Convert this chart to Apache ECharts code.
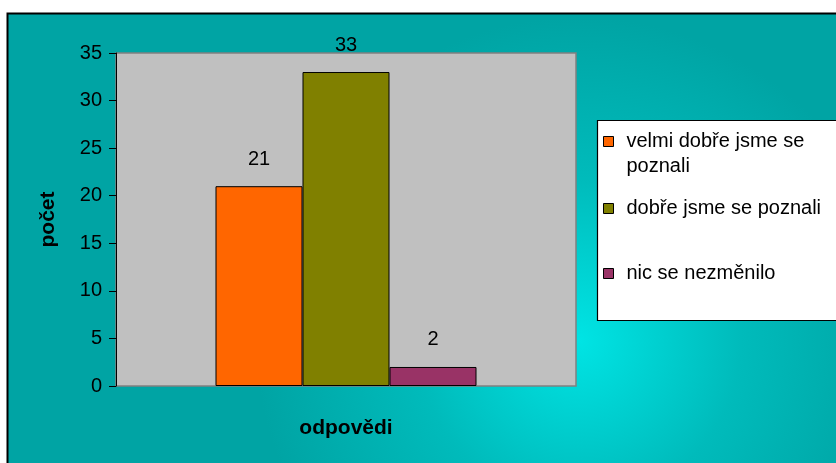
<!DOCTYPE html>
<html>
<head>
<meta charset="utf-8">
<script src="https://cdn.jsdelivr.net/npm/echarts@6/dist/echarts.min.js"></script>
<style>
  html, body { margin: 0; padding: 0; background: #fff; }
  #chart { width: 836px; height: 463px; }
</style>
</head>
<body>
<div id="chart"></div>
<script>
// data
var categories = [''];
var seriesNames = ['velmi dobře jsme se poznali', 'dobře jsme se poznali', 'nic se nezměnilo'];
var seriesValues = [[21], [33], [2]];
var seriesColors = ['#FF6600', '#808000', '#993366'];
var yTicks = { min: 0, max: 35, interval: 5 };

var chart = echarts.init(document.getElementById('chart'));
var font = 'Liberation Sans, Arial, sans-serif';

var series = seriesNames.map(function (name, i) {
    return {
        name: name,
        type: 'bar',
        data: seriesValues[i],
        barWidth: 87,
        barGap: '0%',
        itemStyle: { color: seriesColors[i], borderColor: '#000', borderWidth: 1 },
        label: {
            show: true,
            position: 'top',
            distance: 17,
            color: '#000',
            fontSize: 20,
            fontFamily: font
        }
    };
});

// one legend per item so the rows sit where the original puts them
var legendTops = [99, 191, 256];
var legends = seriesNames.map(function (name, i) {
    return {
        data: [name],
        left: 598,
        top: legendTops[i],
        orient: 'vertical',
        icon: 'rect',
        itemWidth: 10,
        itemHeight: 10,
        itemStyle: { borderColor: '#000', borderWidth: 1 },
        selectedMode: false,
        // the long name wraps; a leading blank line keeps the square on its first line
        formatter: function (n) {
            return n === seriesNames[0] ? '\nvelmi dobře jsme se\npoznali' : n;
        },
        textStyle: {
            color: '#000',
            fontSize: 20,
            fontFamily: font,
            lineHeight: 25,
            padding: [0, 0, 0, 8]
        }
    };
});

chart.setOption({
    backgroundColor: '#fff',
    animation: false,
    graphic: [
        {
            type: 'rect',
            z: -100,
            shape: { x: 7.5, y: 13.5, width: 840, height: 460 },
            style: {
                fill: {
                    type: 'radial',
                    x: 0.68, y: 0.71, r: 0.7,
                    colorStops: [
                        { offset: 0, color: '#00E4E4' },
                        { offset: 0.5, color: '#00BBBB' },
                        { offset: 1, color: '#00A4A4' }
                    ]
                },
                stroke: '#000',
                lineWidth: 2
            }
        },
        {
            type: 'rect',
            z: -50,
            shape: { x: 597.5, y: 120.5, width: 250, height: 200 },
            style: { fill: '#fff', stroke: '#000', lineWidth: 1.2 }
        }
    ],
    legend: legends,
    grid: {
        left: 116,
        top: 53,
        width: 460,
        height: 333,
        show: true,
        backgroundColor: '#C0C0C0',
        borderColor: '#808080',
        borderWidth: 1.5
    },
    xAxis: {
        type: 'category',
        data: categories,
        name: 'odpovědi',
        nameLocation: 'middle',
        nameGap: 32,
        nameTextStyle: { color: '#000', fontSize: 21, fontWeight: 'bold', fontFamily: font },
        axisLine: { show: false },
        axisTick: { show: false },
        axisLabel: { show: false }
    },
    yAxis: {
        type: 'value',
        min: yTicks.min,
        max: yTicks.max,
        interval: yTicks.interval,
        name: 'počet',
        nameLocation: 'middle',
        nameGap: 57,
        nameTextStyle: { color: '#000', fontSize: 21, fontWeight: 'bold', fontFamily: font },
        axisLine: { show: true, lineStyle: { color: '#000', width: 1 } },
        axisTick: { show: true, length: 7, lineStyle: { color: '#000' } },
        axisLabel: { color: '#000', fontSize: 20, fontFamily: font, margin: 14 },
        splitLine: { show: false }
    },
    series: series
});
</script>
</body>
</html>
